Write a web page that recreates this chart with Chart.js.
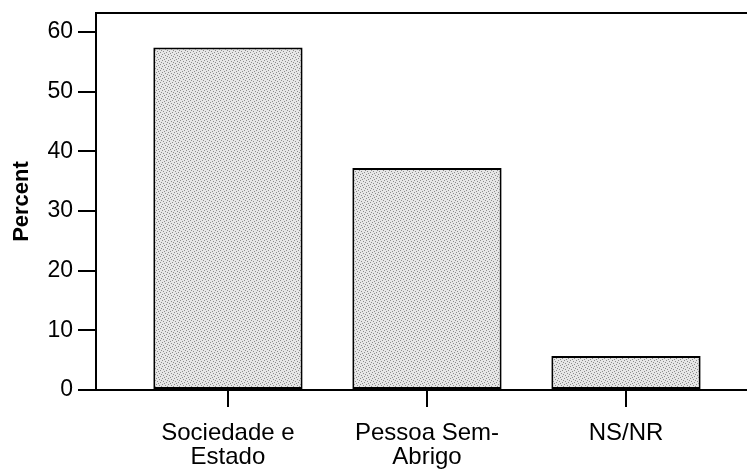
<!DOCTYPE html>
<html>
<head>
<meta charset="utf-8">
<script src="https://cdn.jsdelivr.net/npm/chart.js@4"></script>
<style>
  html, body { margin: 0; padding: 0; background: #fff; overflow: hidden; }
</style>
</head>
<body>
<canvas id="chart" width="747" height="469"></canvas>
<script>
const categories = [["Sociedade e", "Estado"], ["Pessoa Sem-", "Abrigo"], ["NS/NR"]];
const percents = [57.4, 37.2, 5.7];
const yTicks = [0, 10, 20, 30, 40, 50, 60];

// stippled grey fill like the printed bars
function stipple() {
  const c = document.createElement("canvas");
  c.width = 6; c.height = 6;
  const g = c.getContext("2d");
  g.fillStyle = "#e6e6e6";
  g.fillRect(0, 0, 6, 6);
  g.fillStyle = "#8c8c8c";
  [[0, 0], [3, 1], [1, 3], [4, 4], [5, 2], [2, 5]].forEach(p => g.fillRect(p[0], p[1], 1, 1));
  return g.createPattern(c, "repeat");
}

const ctx = document.getElementById("chart").getContext("2d");
const family = "'Liberation Sans', Arial, sans-serif";

const chart = new Chart(ctx, {
  type: "bar",
  data: {
    datasets: [{
      data: percents.map((v, i) => ({ x: i + 1, y: v })),
      backgroundColor: stipple(),
      borderColor: "#000",
      borderWidth: 2,
      borderSkipped: false,
      barPercentage: 0.75,
      categoryPercentage: 1
    }]
  },
  options: {
    responsive: false,
    animation: false,
    layout: { padding: 0 },
    plugins: { legend: { display: false }, tooltip: { enabled: false } },
    scales: {
      x: {
        type: "linear",
        position: "bottom",
        offset: false,
        min: 0.337,
        max: 3.608,
        afterBuildTicks: (s) => { s.ticks = categories.map((c, i) => ({ value: i + 1 })); },
        afterFit: (s) => { s.height = 79; s.paddingLeft = 0; s.paddingRight = 0; },
        ticks: {
          autoSkip: false,
          maxRotation: 0,
          color: "#000",
          font: { family: family, size: 24, lineHeight: 1.0 },
          padding: 14,
          callback: (v) => categories[v - 1]
        },
        grid: { display: true, offset: false, drawOnChartArea: false, drawTicks: true, tickLength: 17, color: "#000", lineWidth: 2 },
        border: { display: true, color: "#000", width: 2 }
      },
      xTop: {
        type: "linear",
        position: "top",
        offset: false,
        min: 0.337,
        max: 3.608,
        afterFit: (s) => { s.height = 13; },
        ticks: { display: false },
        grid: { display: false },
        border: { display: true, color: "#000", width: 2 }
      },
      y: {
        min: 0,
        max: 63.2,
        afterBuildTicks: (s) => { s.ticks = yTicks.map(v => ({ value: v })); },
        afterFit: (s) => { s.width = 96; s.paddingTop = 0; s.paddingBottom = 0; },
        ticks: { color: "#000", font: { family: family, size: 23, lineHeight: 1.0 }, padding: 5 },
        grid: { display: true, drawOnChartArea: false, drawTicks: true, tickLength: 18, color: "#000", lineWidth: 2 },
        border: { display: true, color: "#000", width: 2 },
        title: {
          display: true,
          text: "Percent",
          color: "#000",
          font: { family: family, size: 22, weight: "bold" },
          padding: { top: 9, bottom: 0 }
        }
      }
    }
  }
});
</script>
</body>
</html>
